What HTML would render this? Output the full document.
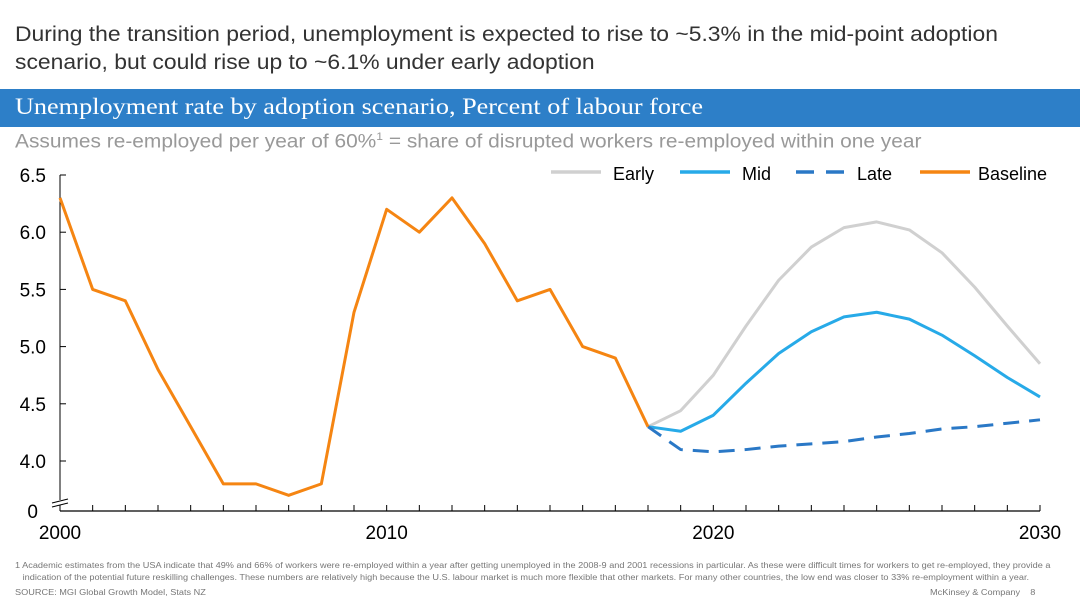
<!DOCTYPE html>
<html><head><meta charset="utf-8"><style>
body{margin:0;width:1080px;height:608px;background:#fff;font-family:"Liberation Sans",sans-serif;overflow:hidden;position:relative}
.t{position:absolute;white-space:nowrap;transform-origin:0 0}
</style></head><body>
<div class="t" style="left:15px;top:21px;font-size:21px;line-height:28px;color:#333;transform:scaleX(1.09)">During the transition period, unemployment is expected to rise to ~5.3% in the mid-point adoption<br>scenario, but could rise up to ~6.1% under early adoption</div>
<div style="position:absolute;left:0;top:89px;width:1080px;height:38px;background:#2d7fc8"></div>
<div class="t" style="left:15px;top:94px;font-family:'Liberation Serif',serif;font-size:23px;color:#fff;transform:scaleX(1.14)">Unemployment rate by adoption scenario, Percent of labour force</div>
<div class="t" style="left:15px;top:131px;font-size:19px;color:#999;transform:scaleX(1.1)">Assumes re-employed per year of 60%<sup style="font-size:11px">1</sup> = share of disrupted workers re-employed within one year</div>
<svg id="chart" width="1080" height="608" style="position:absolute;left:0;top:0"></svg>
<div class="t" style="left:15px;top:560px;font-size:8px;line-height:12px;color:#777;transform:scaleX(1.145)">1 Academic estimates from the USA indicate that 49% and 66% of workers were re-employed within a year after getting unemployed in the 2008-9 and 2001 recessions in particular. As these were difficult times for workers to get re-employed, they provide a<br>&nbsp;&nbsp;&nbsp;indication of the potential future reskilling challenges. These numbers are relatively high because the U.S. labour market is much more flexible that other markets. For many other countries, the low end was closer to 33% re-employment within a year.</div>
<div class="t" style="left:15px;top:588px;font-size:8px;color:#777;transform:scaleX(1.145)">SOURCE: MGI Global Growth Model, Stats NZ</div>
<div class="t" style="left:930px;top:588px;font-size:8px;color:#777;transform:scaleX(1.145)">McKinsey &amp; Company &nbsp;&nbsp;&nbsp;8</div>
<script>
const baseYears=[2000,2001,2002,2003,2004,2005,2006,2007,2008,2009,2010,2011,2012,2013,2014,2015,2016,2017,2018];
const baseline=[6.3,5.5,5.4,4.8,4.3,3.8,3.8,3.7,3.8,5.3,6.2,6.0,6.3,5.9,5.4,5.5,5.0,4.9,4.3];
const scenYears=[2018,2019,2020,2021,2022,2023,2024,2025,2026,2027,2028,2029,2030];
const early=[4.3,4.44,4.75,5.18,5.58,5.87,6.04,6.09,6.02,5.82,5.52,5.18,4.85];
const mid=[4.3,4.26,4.4,4.68,4.94,5.13,5.26,5.3,5.24,5.1,4.92,4.73,4.56];
const late=[4.3,4.1,4.08,4.1,4.13,4.15,4.17,4.21,4.24,4.28,4.3,4.33,4.36];
const yTicks=[4.0,4.5,5.0,5.5,6.0,6.5];
const xLabels=[2000,2010,2020,2030];
const NS="http://www.w3.org/2000/svg",svg=document.getElementById('chart');
const x=y=>60+(y-2000)*(980/30);
const yv=v=>461-(v-4)*(286/2.5);
function el(t,a,p){const e=document.createElementNS(NS,t);for(const k in a)e.setAttribute(k,a[k]);(p||svg).appendChild(e);return e;}
let ax=el('line',{x1:60,y1:175,x2:60,y2:500,stroke:'#000','stroke-width':1});


let xa=el('line',{x1:60,y1:511,x2:1040,y2:511,stroke:'#000','stroke-width':1.3});


el('line',{x1:60,y1:505,x2:60,y2:511,stroke:'#000'});
el('line',{x1:52,y1:503,x2:68,y2:499,stroke:'#000'});
el('line',{x1:52,y1:507,x2:68,y2:503,stroke:'#000'});
yTicks.forEach(v=>{
 el('line',{x1:60,y1:yv(v),x2:66,y2:yv(v),stroke:'#000'});
 const t=el('text',{x:46,y:yv(v)+7,'text-anchor':'end','font-size':19,fill:'#000'});t.textContent=v.toFixed(1);
 
 
});
const z=el('text',{x:38,y:518,'text-anchor':'end','font-size':19});z.textContent='0';
for(let yr=2001;yr<=2030;yr++)el('line',{x1:x(yr),y1:505,x2:x(yr),y2:511,stroke:'#000'});
xLabels.forEach(yr=>{const t=el('text',{x:x(yr),y:539,'text-anchor':'middle','font-size':19});t.textContent=yr;
 
 });
function line(xs,vs,color,name,dash){
 const p=el('polyline',{points:xs.map((yr,i)=>x(yr)+','+yv(vs[i])).join(' '),fill:'none',stroke:color,'stroke-width':3,'stroke-linejoin':'round'});
 if(dash)p.setAttribute('stroke-dasharray',dash);
 
 
}
line(scenYears,early,'#d0d0d0','series-early');
line(scenYears,mid,'#27aae8','series-mid');
line(scenYears,late,'#2a78c6','series-late','16,10');
line(baseYears,baseline,'#f58512','series-baseline');
const leg=[['Early','#d0d0d0',551,613,null],['Mid','#27aae8',680,742,null],['Late','#2a78c6',796,857,'18,12'],['Baseline','#f58512',920,978,null]];
leg.forEach(l=>{const g=el('g',{});
 
 
 const ln=el('line',{x1:l[2],y1:172,x2:l[2]+50,y2:172,stroke:l[1],'stroke-width':3.5},g);if(l[4])ln.setAttribute('stroke-dasharray',l[4]);
 const t=el('text',{x:l[3],y:180,'font-size':18},g);t.textContent=l[0];});
</script>
</body></html>
